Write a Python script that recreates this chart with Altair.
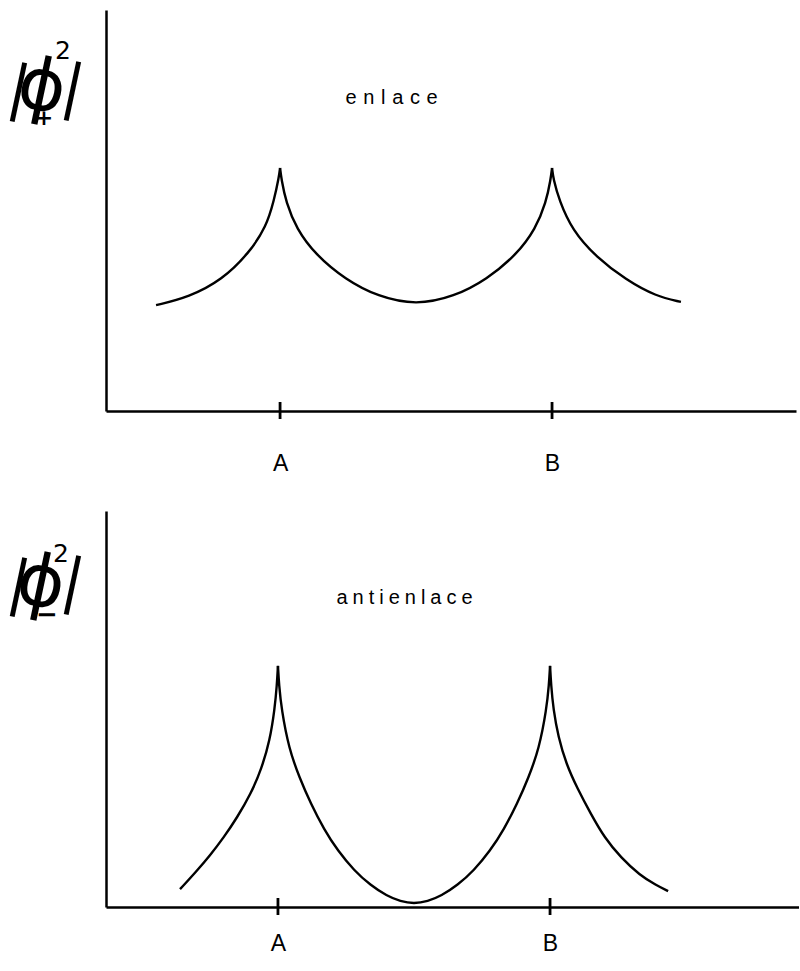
import altair as alt
import pandas as pd

# Positions of the two nuclei along the internuclear axis (A = 0, B = 1)
nucleus_x = [0.0, 1.0]
nucleus_names = ["A", "B"]

# Bonding combination |phi+|^2, in three pieces split at the cusps
bond_left_x = [-0.456, -0.335, -0.213, -0.114, -0.051, -0.022, -0.004, 0.0]
bond_left_y = [0.264, 0.284, 0.327, 0.394, 0.459, 0.526, 0.584, 0.606]
bond_mid_x = [0.0, 0.005, 0.022, 0.06, 0.13, 0.24, 0.36, 0.5,
              0.64, 0.76, 0.87, 0.94, 0.978, 0.995, 1.0]
bond_mid_y = [0.606, 0.578, 0.52, 0.455, 0.39, 0.328, 0.285, 0.264,
              0.285, 0.328, 0.39, 0.455, 0.52, 0.578, 0.606]
bond_right_x = [1.0, 1.005, 1.026, 1.074, 1.162, 1.272, 1.382, 1.474]
bond_right_y = [0.606, 0.578, 0.526, 0.451, 0.384, 0.327, 0.286, 0.272]

# Antibonding combination |phi-|^2
anti_left_x = [-0.36, -0.30, -0.25, -0.20, -0.151, -0.10, -0.06, -0.03,
               -0.012, -0.004, 0.0]
anti_left_y = [0.045, 0.09, 0.13, 0.175, 0.225, 0.285, 0.35, 0.42,
               0.50, 0.56, 0.609]
anti_mid_x = [0.0, 0.004, 0.013, 0.04, 0.08, 0.12, 0.17, 0.22, 0.28, 0.34,
              0.40, 0.45, 0.5, 0.55, 0.60, 0.66, 0.72, 0.78, 0.83, 0.88,
              0.92, 0.96, 0.987, 0.996, 1.0]
anti_mid_y = [0.609, 0.56, 0.50, 0.40, 0.325, 0.262, 0.195, 0.142, 0.092,
              0.055, 0.028, 0.014, 0.008, 0.014, 0.028, 0.055, 0.092, 0.142,
              0.195, 0.262, 0.325, 0.40, 0.50, 0.56, 0.609]
anti_right_x = [1.0, 1.004, 1.012, 1.03, 1.06, 1.10, 1.15, 1.20, 1.26,
                1.33, 1.39, 1.434]
anti_right_y = [0.609, 0.56, 0.50, 0.43, 0.36, 0.30, 0.235, 0.175, 0.125,
                0.08, 0.055, 0.040]

TOP_DOMAIN = [-0.64, 1.897]
BOTTOM_DOMAIN = [-0.632, 1.915]
TEXT_FONT = "Liberation Sans"
SYMBOL_FONT = "DejaVu Sans"
SLANT = 12


def pieces(parts):
    frames = []
    for name, xs, ys in parts:
        frames.append(pd.DataFrame({"x": xs, "y": ys, "seg": name}))
    return pd.concat(frames, ignore_index=True)


bond_df = pieces([("l", bond_left_x, bond_left_y),
                  ("m", bond_mid_x, bond_mid_y),
                  ("r", bond_right_x, bond_right_y)])
anti_df = pieces([("l", anti_left_x, anti_left_y),
                  ("m", anti_mid_x, anti_mid_y),
                  ("r", anti_right_x, anti_right_y)])
nuclei_df = pd.DataFrame({"x": nucleus_x, "name": nucleus_names})
one_row = pd.DataFrame({"k": [0]})


def spaced(word, gap):
    return gap.join(word)


def glyph(text, dx, dy, size, angle=0, weight="normal"):
    return alt.Chart(one_row).mark_text(
        text=text, fontSize=size, font=SYMBOL_FONT, angle=angle,
        fontWeight=weight, align="center", baseline="middle", color="black",
    ).encode(x=alt.value(dx), y=alt.value(dy))


def panel(df, w, h, domain, label, label_x, label_y, gap, sub, sub_size,
          sym, label_pad):
    x_enc = alt.X(
        "x:Q",
        scale=alt.Scale(domain=domain, nice=False, zero=False),
        axis=alt.Axis(
            values=nucleus_x,
            labelExpr="datum.value == 0 ? 'A' : 'B'",
            ticks=False, tickSize=0, grid=False,
            domainColor="black", domainWidth=2.5,
            labelPadding=label_pad, labelFontSize=23, labelFont=TEXT_FONT,
            labelColor="black", labelBaseline="top", title=None,
        ),
    )
    y_enc = alt.Y(
        "y:Q",
        scale=alt.Scale(domain=[0, 1], nice=False),
        axis=alt.Axis(ticks=False, tickSize=0, labels=False, grid=False,
                      domainColor="black", domainWidth=2.5, title=None),
    )
    curve = alt.Chart(df).mark_line(
        color="black", strokeWidth=2.4, interpolate="basis"
    ).encode(x=x_enc, y=y_enc, detail="seg:N")

    ticks = alt.Chart(nuclei_df).mark_rule(color="black", strokeWidth=2.8).encode(
        x="x:Q", y=alt.value(h - 9), y2=alt.value(h + 8)
    )

    word = alt.Chart(one_row).mark_text(
        text=spaced(label, gap), fontSize=20, font=TEXT_FONT, color="black",
        align="center", baseline="middle",
    ).encode(x=alt.datum(label_x), y=alt.datum(label_y))

    (lb, ph, rb, sq, sb) = sym
    symbol = [
        glyph("|", lb[0], lb[1], 60, SLANT),
        glyph("\u03d5", ph[0], ph[1], 72, SLANT),
        glyph("|", rb[0], rb[1], 60, SLANT),
        glyph("2", sq[0], sq[1], 25),
        glyph(sub, sb[0], sb[1], sub_size, weight="bold"),
    ]
    return alt.layer(curve, ticks, word, *symbol).properties(width=w, height=h)


top = panel(
    bond_df, 690, 401, TOP_DOMAIN, "enlace", 0.41, 0.78, "\u2005\u200a",
    "+", 22,
    ((-87, 80), (-64, 78), (-33, 79), (-43, 41), (-62, 108)), 41,
)
bottom = panel(
    anti_df, 693, 396, BOTTOM_DOMAIN, "antienlace", 0.465, 0.78, "\u2005",
    "\u2212", 26,
    ((-87, 74), (-65, 73), (-33, 72), (-45, 43), (-59, 104)), 25,
)

chart = alt.vconcat(top, bottom, spacing=36).properties(
    padding={"left": 2, "top": 10, "right": 0, "bottom": 0},
    background="white",
).configure_view(strokeWidth=0)

chart.save("out.html", embed_options={"renderer": "svg", "actions": False})
